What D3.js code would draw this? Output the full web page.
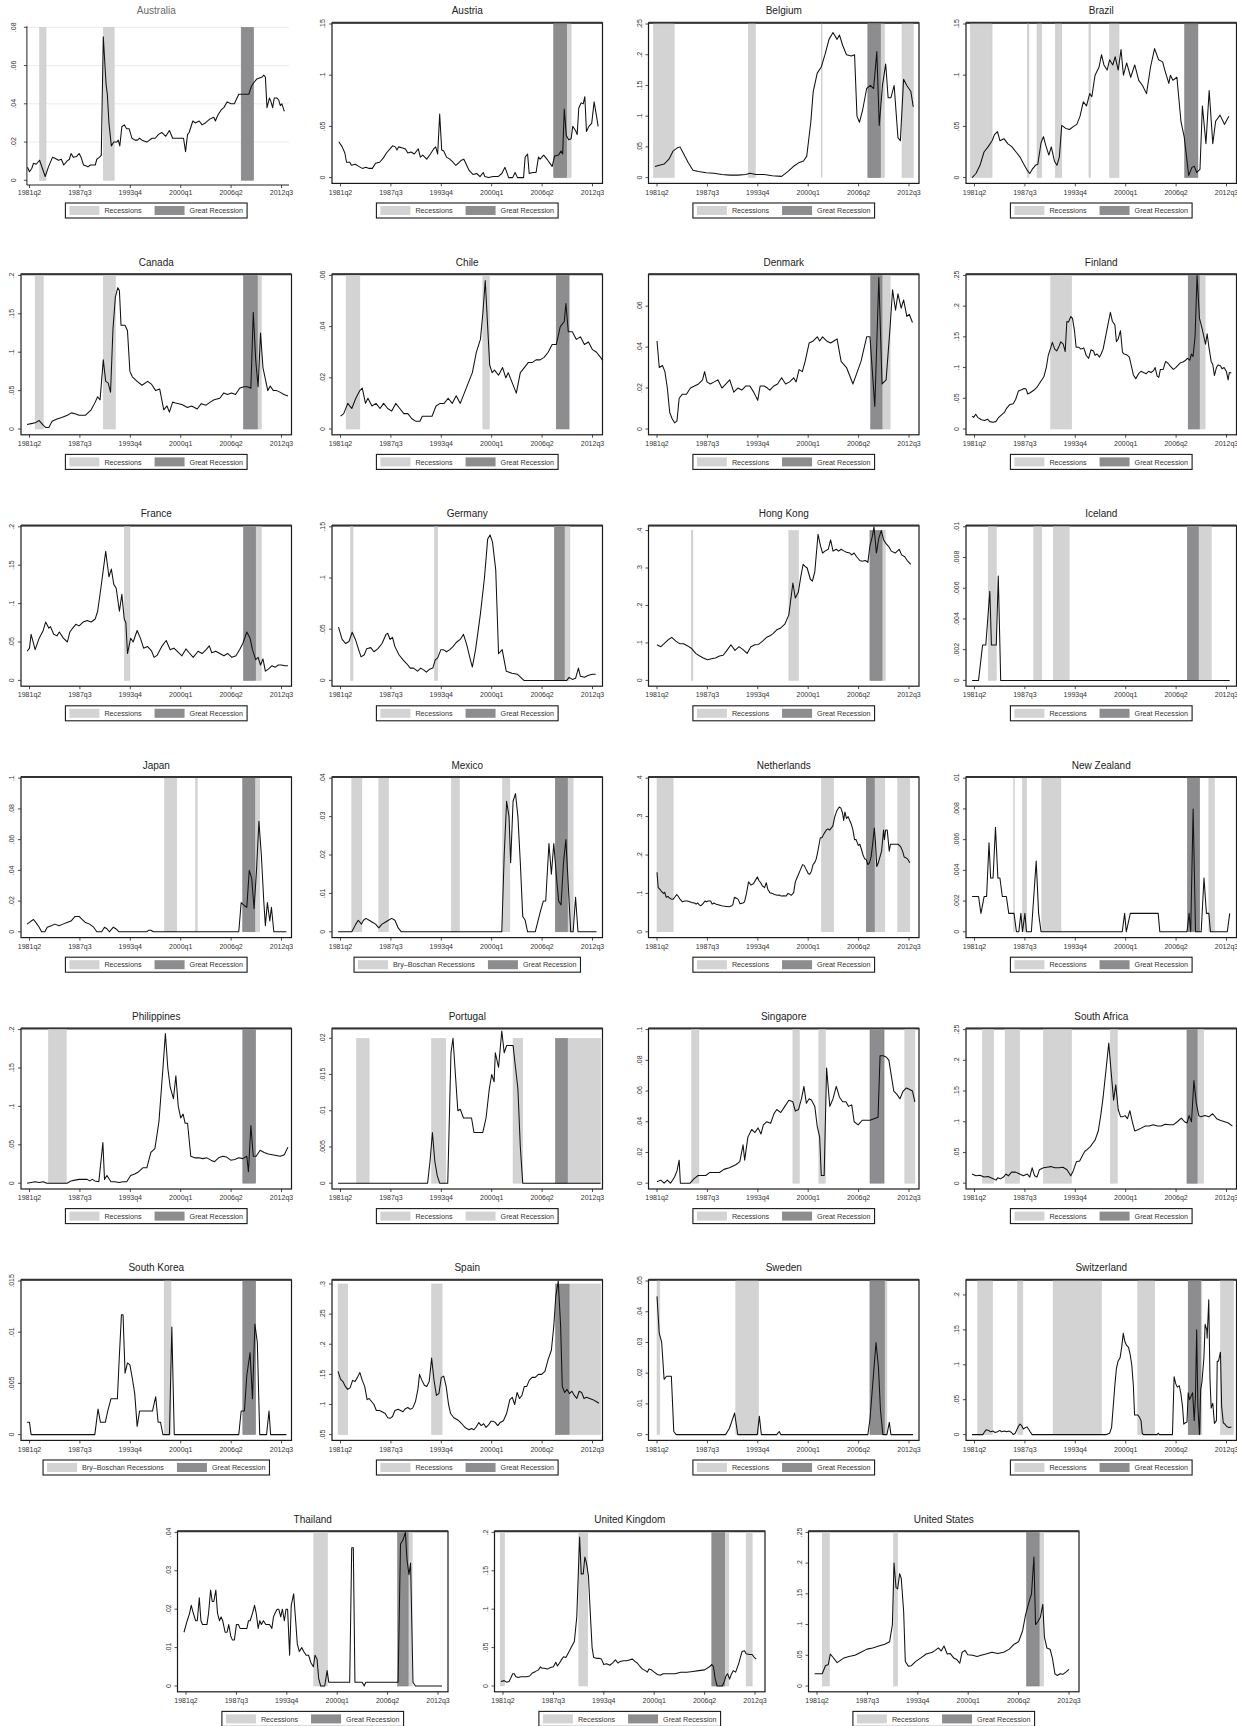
<!DOCTYPE html>
<html><head><meta charset="utf-8">
<script src="https://cdn.jsdelivr.net/npm/d3@7"></script>
<style>
body{margin:0;background:#fff;}
svg text{font-family:"Liberation Sans",Arial,Helvetica,sans-serif;}
</style>
</head><body>
<svg id="c" width="1237" height="1726"></svg>
<script>
// ---------------- DATA ----------------
const tickLabels = ["1981q2","1987q3","1993q4","2000q1","2006q2","2012q3"];
const legendStd = ["Recessions","Great Recession"];
const legendBB = ["Bry\u2013Boschan Recessions","Great Recession"];

// [decimal year, value]
const australia = [[1981.0,.0068],[1981.25,.0045],[1981.54,.0063],[1981.75,.0089],[1982.08,.0084],[1982.5,.0105],[1983.2,.002],[1983.6,.007],[1983.8,.009],[1984.1,.012],[1984.4,.0115],[1984.85,.0105],[1985.2,.011],[1985.5,.008],[1985.9,.01],[1986.2,.011],[1986.4,.014],[1986.7,.012],[1987.1,.0125],[1987.4,.014],[1987.65,.012],[1987.95,.008],[1988.3,.0075],[1988.5,.007],[1988.8,.008],[1989.4,.008],[1989.6,.011],[1989.9,.012],[1990.15,.013],[1990.4,.075],[1990.75,.05],[1990.9,.045],[1991.1,.03],[1991.4,.018],[1991.7,.02],[1992.1,.02],[1992.25,.021],[1992.45,.018],[1992.7,.028],[1993.0,.029],[1993.3,.027],[1993.6,.027],[1993.95,.022],[1994.35,.021],[1994.65,.021],[1994.9,.022],[1995.2,.021],[1995.8,.02],[1996.45,.022],[1996.85,.022],[1997.25,.024],[1997.65,.025],[1998.15,.023],[1998.6,.026],[1999.0,.022],[2000.35,.022],[2000.6,.015],[2000.85,.024],[2001.05,.025],[2001.5,.031],[2001.8,.03],[2002.3,.031],[2002.65,.029],[2003.05,.03],[2003.6,.032],[2004.1,.033],[2004.3,.031],[2004.6,.034],[2005.05,.037],[2005.35,.038],[2005.75,.041],[2006.25,.04],[2006.65,.04],[2007.2,.045],[2007.6,.045],[2008.45,.045],[2008.75,.049],[2009.05,.051],[2009.45,.053],[2010.1,.054],[2010.3,.055],[2010.5,.054],[2010.7,.038],[2011.0,.043],[2011.2,.041],[2011.4,.038],[2011.6,.043],[2011.95,.043],[2012.15,.042],[2012.35,.039],[2012.55,.04],[2012.85,.036]];
const austria = [[1981.04,.035],[1981.46,.030],[1981.79,.024],[1982.0,.015],[1982.4,.015],[1982.6,.012],[1983.1,.013],[1983.5,.011],[1983.95,.009],[1984.4,.010],[1984.8,.009],[1985.2,.009],[1985.6,.014],[1986.1,.015],[1986.55,.019],[1986.95,.024],[1987.5,.029],[1987.7,.031],[1988.05,.030],[1988.25,.027],[1988.45,.030],[1988.95,.029],[1989.3,.028],[1989.6,.024],[1990.0,.025],[1990.4,.023],[1990.9,.028],[1991.15,.020],[1991.45,.022],[1991.95,.018],[1992.4,.023],[1992.8,.028],[1993.05,.030],[1993.3,.023],[1993.55,.062],[1993.8,.027],[1994.05,.026],[1994.4,.020],[1994.8,.018],[1995.2,.015],[1995.55,.012],[1995.85,.014],[1996.25,.017],[1996.55,.018],[1996.9,.012],[1997.2,.007],[1997.7,.003],[1998.15,.004],[1998.55,.001],[1998.95,.005],[1999.15,.001],[1999.6,.000],[2000.2,.001],[2000.8,.001],[2001.25,.004],[2001.65,.010],[2002.1,.000],[2002.6,.000],[2002.9,.005],[2003.2,.000],[2003.95,.000],[2004.15,.020],[2004.45,.023],[2004.65,.004],[2005.1,.005],[2005.5,.005],[2005.8,.020],[2006.0,.018],[2006.45,.022],[2006.95,.017],[2007.5,.011],[2007.8,.021],[2008.3,.022],[2008.6,.026],[2008.8,.023],[2009.0,.067],[2009.25,.041],[2009.55,.037],[2009.85,.038],[2010.05,.050],[2010.4,.046],[2010.6,.042],[2010.8,.068],[2011.1,.073],[2011.35,.072],[2011.55,.079],[2011.75,.045],[2012.05,.050],[2012.4,.053],[2012.7,.074],[2013.0,.060],[2013.2,.050]];
const belgium = [[1981.0,.018],[1981.53,.020],[1982.13,.022],[1982.73,.030],[1983.23,.043],[1983.73,.048],[1984.1,.050],[1984.5,.040],[1985.1,.025],[1985.7,.012],[1986.4,.010],[1987.35,.008],[1988.3,.007],[1989.3,.005],[1990.27,.004],[1991.27,.004],[1992.27,.005],[1992.77,.007],[1993.54,.005],[1994.54,.005],[1995.54,.003],[1996.7,.002],[1997.5,.010],[1998.15,.018],[1998.82,.024],[1999.42,.027],[1999.82,.035],[2000.32,.090],[2000.62,.140],[2001.12,.170],[2001.62,.180],[2002.08,.200],[2002.58,.225],[2003.08,.236],[2003.58,.225],[2003.88,.232],[2004.28,.215],[2004.75,.200],[2005.35,.198],[2005.75,.200],[2006.05,.100],[2006.35,.090],[2006.75,.110],[2007.25,.145],[2007.71,.150],[2008.11,.145],[2008.51,.205],[2008.81,.085],[2009.21,.150],[2009.61,.185],[2009.91,.130],[2010.26,.130],[2010.66,.150],[2011.13,.065],[2011.43,.060],[2011.83,.160],[2012.23,.150],[2012.73,.140],[2013.03,.115]];
const brazil = [[1980.95,.000],[1981.43,.004],[1981.93,.012],[1982.43,.025],[1982.93,.030],[1983.43,.036],[1983.73,.042],[1984.1,.045],[1984.4,.036],[1984.9,.038],[1985.4,.033],[1985.9,.030],[1986.4,.025],[1986.9,.020],[1987.3,.014],[1987.8,.007],[1988.1,.004],[1988.4,.008],[1988.8,.012],[1989.1,.013],[1989.5,.034],[1989.8,.040],[1990.07,.032],[1990.47,.022],[1990.77,.030],[1991.17,.016],[1991.47,.012],[1991.77,.020],[1992.07,.051],[1992.57,.048],[1993.04,.047],[1993.54,.050],[1993.94,.052],[1994.34,.060],[1994.74,.074],[1995.14,.070],[1995.54,.082],[1995.8,.079],[1996.2,.100],[1996.7,.108],[1997.0,.120],[1997.3,.110],[1997.7,.105],[1998.0,.115],[1998.4,.110],[1998.7,.118],[1999.07,.105],[1999.42,.125],[1999.72,.100],[2000.12,.112],[2000.62,.098],[2001.12,.110],[2001.62,.095],[2002.08,.090],[2002.58,.082],[2003.08,.108],[2003.58,.126],[2004.08,.115],[2004.58,.113],[2004.85,.105],[2005.35,.092],[2005.55,.100],[2005.85,.095],[2006.35,.098],[2006.85,.055],[2007.25,.040],[2007.55,.020],[2007.81,.002],[2008.21,.010],[2008.51,.011],[2008.81,.005],[2009.21,.008],[2009.51,.070],[2009.95,.033],[2010.35,.085],[2010.8,.033],[2011.15,.055],[2011.7,.061],[2012.25,.052],[2012.8,.060]];
const canada = [[1980.95,.006],[1981.45,.007],[1981.95,.008],[1982.45,.011],[1982.95,.005],[1983.25,.002],[1983.65,.002],[1984.05,.010],[1984.65,.013],[1985.25,.015],[1985.95,.018],[1986.45,.021],[1986.9,.020],[1987.4,.018],[1988.2,.018],[1988.9,.025],[1989.4,.035],[1989.7,.042],[1990.0,.038],[1990.4,.090],[1990.7,.062],[1991.0,.060],[1991.3,.048],[1991.6,.130],[1991.9,.172],[1992.2,.184],[1992.4,.180],[1992.6,.135],[1993.1,.135],[1993.4,.128],[1993.7,.075],[1994.0,.068],[1994.6,.062],[1995.2,.057],[1995.9,.062],[1996.4,.058],[1996.9,.050],[1997.4,.052],[1997.9,.025],[1998.3,.030],[1998.6,.022],[1999.0,.035],[1999.35,.034],[2000.15,.032],[2000.85,.028],[2001.35,.030],[2002.05,.026],[2002.55,.033],[2003.15,.031],[2003.65,.035],[2004.15,.038],[2004.85,.040],[2005.35,.047],[2005.8,.045],[2006.3,.047],[2006.8,.045],[2007.3,.053],[2007.8,.055],[2008.3,.055],[2008.7,.053],[2009.0,.152],[2009.3,.090],[2009.6,.055],[2009.9,.125],[2010.2,.080],[2010.5,.065],[2010.8,.050],[2011.1,.056],[2011.5,.050],[2011.9,.050],[2012.3,.048],[2012.8,.045],[2013.3,.043]];
const chile = [[1981.25,.005],[1981.65,.006],[1982.15,.010],[1982.65,.008],[1983.15,.012],[1983.65,.015],[1983.95,.016],[1984.35,.010],[1984.65,.012],[1985.15,.009],[1985.65,.010],[1986.15,.008],[1986.6,.010],[1987.1,.008],[1987.6,.007],[1988.1,.010],[1988.6,.008],[1989.1,.006],[1989.6,.006],[1990.1,.004],[1990.6,.003],[1991.1,.003],[1991.4,.005],[1992.1,.005],[1992.6,.005],[1993.1,.009],[1993.6,.010],[1994.1,.010],[1994.6,.012],[1995.1,.010],[1995.6,.013],[1996.1,.010],[1996.6,.014],[1997.1,.018],[1997.6,.022],[1998.1,.030],[1998.6,.035],[1998.9,.045],[1999.2,.058],[1999.5,.040],[1999.75,.025],[2000.05,.022],[2000.35,.023],[2000.85,.021],[2001.35,.024],[2001.75,.020],[2002.05,.022],[2002.55,.018],[2003.05,.014],[2003.55,.022],[2004.05,.024],[2004.55,.026],[2005.05,.026],[2005.5,.027],[2006.0,.027],[2006.5,.028],[2007.0,.030],[2007.5,.033],[2008.0,.033],[2008.5,.040],[2009.0,.042],[2009.2,.049],[2009.5,.038],[2010.0,.038],[2010.5,.035],[2011.0,.036],[2011.5,.033],[2012.0,.034],[2012.5,.031],[2013.0,.030],[2013.5,.028],[2013.7,.027]];
const denmark = [[1981.25,.043],[1981.53,.030],[1981.93,.031],[1982.23,.028],[1982.53,.020],[1982.83,.008],[1983.13,.005],[1983.43,.003],[1983.73,.004],[1984.0,.015],[1984.4,.017],[1984.9,.017],[1985.4,.020],[1985.9,.021],[1986.4,.022],[1986.9,.024],[1987.15,.028],[1987.45,.023],[1987.85,.022],[1988.35,.023],[1988.8,.024],[1989.3,.020],[1989.8,.022],[1990.27,.024],[1990.77,.018],[1991.27,.020],[1991.77,.019],[1992.27,.021],[1992.77,.021],[1993.24,.018],[1993.74,.014],[1994.04,.021],[1994.54,.021],[1994.94,.020],[1995.24,.019],[1995.74,.021],[1996.2,.022],[1996.7,.025],[1997.2,.022],[1997.7,.023],[1998.2,.025],[1998.5,.023],[1998.87,.029],[1999.27,.028],[1999.62,.033],[2000.12,.042],[2000.62,.043],[2001.12,.045],[2001.42,.043],[2001.78,.045],[2002.28,.043],[2002.78,.042],[2003.18,.043],[2003.58,.044],[2004.08,.033],[2004.75,.030],[2005.55,.022],[2006.55,.033],[2007.25,.045],[2007.66,.045],[2008.26,.011],[2008.76,.074],[2009.16,.022],[2009.66,.024],[2010.16,.050],[2010.46,.068],[2010.83,.058],[2011.13,.066],[2011.53,.059],[2011.83,.063],[2012.23,.055],[2012.53,.056],[2012.93,.052]];
const finland = [[1980.95,.021],[1981.15,.019],[1981.4,.024],[1981.65,.019],[1982.1,.015],[1982.5,.014],[1982.85,.016],[1983.15,.012],[1983.55,.011],[1983.9,.012],[1984.2,.018],[1984.6,.023],[1984.95,.027],[1985.25,.034],[1985.65,.040],[1986.05,.041],[1986.35,.048],[1986.7,.062],[1987.1,.064],[1987.4,.066],[1987.65,.065],[1987.85,.057],[1988.15,.059],[1988.6,.063],[1989.0,.068],[1989.4,.076],[1989.85,.085],[1990.15,.100],[1990.4,.120],[1990.7,.132],[1990.9,.141],[1991.2,.130],[1991.45,.127],[1991.75,.135],[1991.95,.142],[1992.25,.138],[1992.5,.126],[1992.7,.175],[1992.9,.174],[1993.2,.183],[1993.4,.180],[1993.65,.160],[1993.85,.133],[1994.2,.133],[1994.45,.130],[1994.8,.132],[1995.1,.120],[1995.4,.115],[1995.7,.129],[1996.0,.127],[1996.2,.120],[1996.45,.122],[1996.75,.117],[1996.95,.122],[1997.2,.130],[1997.5,.150],[1997.8,.170],[1998.1,.190],[1998.35,.175],[1998.65,.170],[1998.85,.142],[1999.05,.146],[1999.35,.160],[1999.6,.125],[1999.8,.122],[2000.1,.121],[2000.45,.117],[2000.75,.100],[2000.95,.088],[2001.25,.082],[2001.6,.090],[2001.9,.094],[2002.2,.092],[2002.55,.090],[2002.85,.094],[2003.15,.092],[2003.45,.095],[2003.65,.100],[2003.9,.086],[2004.1,.084],[2004.3,.097],[2004.65,.097],[2004.95,.110],[2005.25,.107],[2005.55,.102],[2005.9,.097],[2006.2,.100],[2006.5,.104],[2006.8,.108],[2007.1,.109],[2007.35,.111],[2007.65,.115],[2007.95,.112],[2008.15,.122],[2008.35,.118],[2008.6,.150],[2008.85,.250],[2009.15,.180],[2009.45,.165],[2009.7,.150],[2009.9,.138],[2010.1,.155],[2010.3,.135],[2010.6,.110],[2010.8,.105],[2011.0,.087],[2011.25,.100],[2011.45,.104],[2011.75,.103],[2011.95,.098],[2012.2,.100],[2012.5,.093],[2012.7,.080],[2012.85,.092],[2013.1,.091]];
const france = [[1980.95,.038],[1981.25,.042],[1981.45,.060],[1981.95,.040],[1982.45,.055],[1982.95,.065],[1983.25,.076],[1983.65,.068],[1983.85,.070],[1984.25,.060],[1984.65,.058],[1984.95,.063],[1985.45,.055],[1985.95,.050],[1986.25,.063],[1986.6,.068],[1987.0,.073],[1987.4,.071],[1987.9,.076],[1988.4,.078],[1988.9,.076],[1989.4,.080],[1989.7,.090],[1990.1,.120],[1990.7,.168],[1991.1,.135],[1991.4,.145],[1991.7,.125],[1992.0,.120],[1992.4,.090],[1992.7,.112],[1993.0,.080],[1993.2,.075],[1993.4,.035],[1993.8,.055],[1994.1,.050],[1994.6,.065],[1995.0,.055],[1995.4,.042],[1995.9,.044],[1996.4,.038],[1996.7,.030],[1997.1,.033],[1997.7,.045],[1998.2,.052],[1998.7,.040],[1999.15,.042],[1999.55,.038],[2000.15,.032],[2000.65,.041],[2001.05,.036],[2001.55,.030],[2002.15,.038],[2002.65,.035],[2003.15,.040],[2003.55,.045],[2003.85,.036],[2004.35,.038],[2004.85,.035],[2005.35,.032],[2005.85,.035],[2006.35,.030],[2006.85,.032],[2007.3,.040],[2007.7,.048],[2008.2,.063],[2008.6,.055],[2008.9,.040],[2009.3,.027],[2009.6,.030],[2009.9,.020],[2010.2,.028],[2010.5,.012],[2010.9,.015],[2011.3,.019],[2011.7,.017],[2012.1,.020],[2012.5,.020],[2012.9,.019],[2013.3,.019]];
const germany = [[1981.0,.052],[1981.45,.040],[1981.9,.036],[1982.3,.038],[1982.7,.047],[1983.1,.040],[1983.5,.030],[1983.8,.023],[1984.2,.025],[1984.5,.031],[1985.0,.032],[1985.4,.028],[1985.9,.031],[1986.4,.036],[1986.9,.045],[1987.1,.046],[1987.4,.040],[1987.7,.042],[1988.0,.033],[1988.5,.025],[1989.0,.020],[1989.5,.016],[1989.9,.012],[1990.3,.012],[1990.8,.009],[1991.2,.012],[1991.6,.010],[1991.9,.008],[1992.3,.011],[1992.7,.012],[1993.0,.020],[1993.3,.022],[1993.7,.030],[1994.0,.030],[1994.4,.028],[1994.8,.030],[1995.2,.033],[1995.6,.037],[1996.1,.040],[1996.5,.045],[1996.9,.035],[1997.3,.022],[1997.6,.013],[1998.0,.030],[1998.6,.065],[1999.1,.100],[1999.5,.138],[1999.8,.142],[2000.1,.135],[2000.5,.108],[2000.85,.026],[2001.3,.030],[2001.8,.009],[2002.5,.007],[2003.2,.006],[2004.0,.000],[2009.3,.000],[2009.6,.003],[2010.0,.001],[2010.4,.002],[2010.75,.012],[2011.0,.004],[2011.5,.003],[2012.0,.005],[2012.5,.006],[2012.9,.006]];
const hongKong = [[1981.25,.095],[1981.73,.090],[1982.23,.100],[1982.73,.110],[1983.08,.115],[1983.58,.105],[1984.05,.098],[1984.55,.098],[1985.05,.092],[1985.55,.085],[1986.05,.072],[1986.55,.065],[1987.0,.060],[1987.5,.055],[1988.0,.058],[1988.5,.060],[1989.0,.065],[1989.45,.067],[1989.92,.080],[1990.42,.095],[1990.92,.080],[1991.42,.090],[1991.92,.082],[1992.42,.072],[1992.89,.090],[1993.39,.095],[1993.84,.096],[1994.34,.105],[1994.84,.115],[1995.34,.120],[1995.64,.125],[1996.1,.135],[1996.6,.140],[1997.1,.150],[1997.6,.175],[1998.1,.260],[1998.4,.220],[1998.77,.235],[1999.07,.275],[1999.37,.310],[1999.57,.305],[1999.87,.300],[2000.27,.270],[2000.52,.265],[2000.82,.290],[2001.22,.390],[2001.52,.360],[2001.78,.340],[2002.08,.345],[2002.48,.350],[2002.78,.375],[2003.08,.345],[2003.48,.350],[2003.78,.345],[2004.08,.350],[2004.48,.345],[2004.75,.342],[2005.15,.340],[2005.4,.335],[2005.7,.340],[2006.0,.330],[2006.4,.320],[2006.7,.318],[2007.1,.320],[2007.4,.315],[2007.66,.360],[2007.96,.385],[2008.16,.410],[2008.46,.340],[2008.76,.380],[2009.06,.400],[2009.36,.375],[2009.66,.365],[2010.06,.355],[2010.31,.345],[2010.78,.340],[2011.28,.350],[2011.58,.335],[2011.98,.330],[2012.28,.320],[2012.73,.310]];
const iceland = [[1980.95,0],[1981.75,0],[1982.25,.0023],[1982.65,.0023],[1983.15,.0058],[1983.35,.0023],[1983.95,.0023],[1984.2,.0068],[1984.5,0],[2012.9,0]];
const japan = [[1980.95,.005],[1981.45,.007],[1981.75,.008],[1982.05,.006],[1982.45,.003],[1982.75,0],[1983.15,0],[1983.45,.003],[1983.95,.004],[1984.4,.005],[1984.9,.004],[1985.4,.005],[1985.9,.006],[1986.4,.007],[1986.9,.010],[1987.4,.010],[1987.8,.008],[1988.2,.006],[1988.7,.005],[1989.2,.003],[1989.6,0],[1990.2,0],[1990.55,.003],[1990.85,.002],[1991.15,0],[1991.65,.003],[1991.95,.002],[1992.35,0],[1995.8,0],[1996.0,.001],[1996.3,.001],[1996.6,0],[2007.2,0],[2007.5,.019],[2007.9,.017],[2008.2,.016],[2008.5,.040],[2008.8,.035],[2009.1,.015],[2009.4,.040],[2009.7,.072],[2010.0,.050],[2010.3,.020],[2010.5,.004],[2010.75,.019],[2011.05,.007],[2011.25,.016],[2011.55,0],[2013.1,0]];
const mexico = [[1980.95,0],[1982.65,0],[1983.15,.002],[1983.45,.003],[1983.85,.002],[1984.1,.003],[1984.4,.0035],[1984.8,.003],[1985.2,.0025],[1985.6,.002],[1986.0,.001],[1986.4,.002],[1986.8,.0025],[1987.2,.003],[1987.6,.0035],[1988.0,.003],[1988.4,.001],[1988.8,0],[2001.25,0],[2001.55,.020],[2001.85,.034],[2002.15,.030],[2002.35,.018],[2002.65,.034],[2002.95,.036],[2003.25,.030],[2003.55,.018],[2003.85,.004],[2004.15,.003],[2004.45,0],[2005.4,0],[2006.0,.005],[2006.4,.008],[2006.7,.008],[2007.1,.023],[2007.4,.015],[2007.7,.023],[2008.0,.015],[2008.3,.008],[2008.6,.007],[2008.9,.018],[2009.2,.024],[2009.5,.012],[2009.8,0],[2010.1,0],[2010.4,.009],[2010.7,0],[2013.0,0]];
const netherlands = [[1981.25,.155],[1981.4,.115],[1981.65,.110],[1981.8,.105],[1982.05,.100],[1982.2,.103],[1982.4,.090],[1982.6,.092],[1982.8,.088],[1983.05,.085],[1983.25,.085],[1983.45,.090],[1983.7,.097],[1983.9,.092],[1984.1,.085],[1984.4,.078],[1984.7,.080],[1985.0,.080],[1985.3,.078],[1985.6,.076],[1985.9,.075],[1986.1,.072],[1986.3,.075],[1986.5,.070],[1986.7,.068],[1986.9,.072],[1987.2,.080],[1987.4,.078],[1987.6,.080],[1987.9,.080],[1988.1,.072],[1988.3,.075],[1988.6,.072],[1988.95,.070],[1989.25,.068],[1989.5,.067],[1989.85,.066],[1990.2,.065],[1990.45,.067],[1990.65,.070],[1990.85,.090],[1991.05,.088],[1991.3,.085],[1991.55,.073],[1991.9,.075],[1992.1,.078],[1992.35,.100],[1992.6,.130],[1992.9,.122],[1993.2,.125],[1993.4,.132],[1993.7,.143],[1993.9,.133],[1994.1,.128],[1994.3,.120],[1994.6,.115],[1994.8,.128],[1995.0,.110],[1995.25,.102],[1995.55,.100],[1995.8,.097],[1996.15,.095],[1996.4,.096],[1996.65,.093],[1996.95,.094],[1997.25,.093],[1997.5,.100],[1997.7,.098],[1997.9,.095],[1998.2,.102],[1998.4,.130],[1998.6,.140],[1998.8,.150],[1999.0,.160],[1999.3,.175],[1999.5,.173],[1999.8,.160],[2000.0,.152],[2000.2,.150],[2000.4,.158],[2000.6,.175],[2000.8,.180],[2001.0,.190],[2001.2,.210],[2001.5,.245],[2001.7,.245],[2001.95,.255],[2002.25,.265],[2002.45,.268],[2002.65,.265],[2002.85,.270],[2003.05,.275],[2003.3,.300],[2003.55,.315],[2003.85,.325],[2004.05,.322],[2004.25,.310],[2004.4,.290],[2004.55,.312],[2004.75,.295],[2004.95,.300],[2005.15,.290],[2005.35,.280],[2005.55,.265],[2005.75,.240],[2005.95,.240],[2006.2,.225],[2006.4,.228],[2006.6,.215],[2006.8,.200],[2007.0,.190],[2007.2,.188],[2007.4,.175],[2007.6,.180],[2007.8,.195],[2008.0,.230],[2008.2,.270],[2008.35,.230],[2008.5,.170],[2008.7,.180],[2008.9,.195],[2009.1,.210],[2009.35,.265],[2009.45,.240],[2009.6,.265],[2009.8,.265],[2010.05,.210],[2010.2,.228],[2010.55,.228],[2010.85,.228],[2011.15,.228],[2011.45,.222],[2011.7,.210],[2011.9,.195],[2012.1,.193],[2012.3,.190],[2012.6,.180]];
const newZealand = [[1980.95,.0023],[1981.75,.0023],[1982.05,.0012],[1982.45,.0023],[1982.75,.0023],[1983.05,.0058],[1983.25,.0035],[1983.55,.0035],[1983.85,.0068],[1984.15,.0035],[1984.4,.0035],[1984.7,.0023],[1985.2,.0023],[1985.5,.0012],[1986.15,.0012],[1986.45,0],[1986.75,0],[1987.0,.0012],[1987.2,0],[1987.5,.0012],[1987.7,0],[1988.3,0],[1988.6,.0023],[1988.9,.0046],[1989.2,.0012],[1989.5,0],[1999.57,0],[1999.87,.0012],[2000.07,0],[2000.57,.0012],[2000.97,.0012],[2001.98,.0012],[2003.43,.0012],[2004.03,.0012],[2004.23,0],[2007.6,0],[2007.86,.0012],[2008.06,0],[2008.36,.0080],[2008.66,0],[2009.36,0],[2009.71,.0035],[2010.01,.0012],[2010.31,.0012],[2010.51,0],[2012.6,0],[2012.9,.0012]];
const philippines = [[1980.95,0],[1981.45,.001],[1981.95,.002],[1982.45,.001],[1982.95,.002],[1983.4,0],[1983.9,0],[1984.9,0],[1985.9,0],[1986.4,.003],[1986.9,.004],[1987.4,.005],[1987.9,.005],[1988.4,.005],[1988.7,.003],[1989.05,.005],[1989.35,.003],[1989.85,.002],[1990.35,.053],[1990.55,.005],[1990.85,.010],[1991.35,.002],[1991.85,.002],[1992.35,.001],[1992.85,.002],[1993.3,.002],[1993.8,.010],[1994.3,.012],[1994.8,.015],[1995.3,.020],[1995.8,.020],[1996.3,.040],[1996.8,.045],[1997.3,.080],[1997.8,.150],[1998.1,.195],[1998.4,.150],[1998.7,.125],[1999.1,.110],[1999.4,.140],[1999.7,.100],[2000.0,.085],[2000.3,.090],[2000.55,.078],[2000.85,.078],[2001.25,.035],[2001.75,.033],[2002.25,.033],[2002.75,.032],[2003.25,.033],[2003.75,.030],[2004.2,.028],[2004.7,.033],[2005.2,.035],[2005.7,.034],[2006.2,.030],[2006.7,.031],[2007.2,.033],[2007.7,.032],[2008.2,.035],[2008.4,.015],[2008.7,.075],[2009.0,.035],[2009.35,.035],[2009.85,.043],[2010.35,.040],[2010.85,.038],[2011.35,.037],[2011.85,.036],[2012.35,.035],[2012.85,.037],[2013.3,.047]];
const portugal = [[1980.95,0],[1991.55,0],[1992.05,0],[1992.35,.003],[1992.65,.007],[1992.95,.003],[1993.25,.001],[1993.55,0],[1994.15,0],[1994.55,0],[1994.95,.018],[1995.2,.020],[1995.5,.015],[1995.8,.010],[1996.1,.0102],[1996.5,.009],[1997.1,.009],[1997.5,.009],[1997.8,.007],[1998.1,.007],[1998.5,.007],[1998.9,.007],[1999.3,.009],[1999.7,.013],[2000.0,.015],[2000.3,.014],[2000.45,.018],[2000.85,.016],[2001.25,.021],[2001.55,.018],[2001.85,.019],[2002.25,.019],[2002.65,.019],[2002.95,.016],[2003.25,.013],[2003.55,.005],[2003.85,0],[2013.5,0]];
const singapore = [[1981.25,.001],[1981.73,.002],[1982.13,0],[1982.53,.002],[1982.93,0],[1983.43,.004],[1983.73,.008],[1984.0,.015],[1984.15,0],[1985.35,0],[1985.85,.003],[1986.35,.005],[1987.3,.005],[1987.8,.007],[1989.0,.007],[1989.55,.009],[1990.22,.010],[1991.02,.012],[1991.52,.014],[1991.92,.025],[1992.12,.015],[1992.52,.030],[1992.99,.035],[1993.39,.033],[1993.79,.036],[1994.14,.032],[1994.44,.038],[1994.84,.040],[1995.34,.039],[1995.74,.045],[1996.1,.048],[1996.6,.046],[1997.1,.050],[1997.6,.054],[1998.1,.053],[1998.4,.047],[1998.8,.048],[1999.17,.055],[1999.47,.063],[1999.77,.052],[2000.12,.055],[2000.42,.054],[2000.82,.050],[2001.12,.037],[2001.42,.030],[2001.62,.005],[2001.98,.005],[2002.28,.075],[2002.68,.050],[2003.08,.055],[2003.48,.063],[2003.88,.056],[2004.28,.053],[2004.68,.053],[2005.0,.050],[2005.4,.051],[2005.7,.040],[2006.2,.038],[2006.7,.041],[2007.2,.041],[2007.66,.041],[2008.16,.042],[2008.66,.043],[2008.91,.083],[2009.31,.083],[2009.71,.082],[2010.01,.080],[2010.31,.070],[2010.61,.060],[2010.98,.058],[2011.38,.055],[2011.78,.060],[2012.18,.062],[2012.58,.061],[2012.93,.060],[2013.23,.053]];
const southAfrica = [[1980.95,.015],[1981.43,.012],[1981.93,.013],[1982.43,.010],[1982.93,.011],[1983.43,.008],[1983.93,.005],[1984.15,.009],[1984.45,.007],[1984.85,.010],[1985.15,.015],[1985.45,.012],[1985.85,.018],[1986.35,.018],[1986.85,.015],[1987.3,.012],[1987.8,.015],[1988.1,.010],[1988.4,.025],[1988.7,.012],[1989.0,.010],[1989.3,.022],[1989.8,.025],[1990.22,.026],[1990.72,.027],[1991.22,.025],[1991.72,.025],[1992.22,.026],[1992.72,.022],[1993.19,.012],[1993.49,.020],[1993.89,.035],[1994.29,.036],[1994.64,.045],[1994.94,.052],[1995.24,.055],[1995.64,.060],[1995.9,.065],[1996.2,.070],[1996.6,.085],[1996.9,.110],[1997.2,.140],[1997.6,.190],[1997.9,.228],[1998.2,.180],[1998.5,.135],[1998.77,.160],[1999.07,.120],[1999.37,.108],[1999.62,.108],[1999.92,.110],[2000.22,.105],[2000.52,.118],[2000.82,.100],[2001.12,.085],[2001.52,.087],[2001.98,.090],[2002.43,.093],[2002.93,.093],[2003.43,.095],[2003.93,.093],[2004.43,.093],[2004.9,.096],[2005.4,.095],[2005.9,.095],[2006.4,.100],[2006.9,.106],[2007.3,.100],[2007.6,.098],[2007.86,.110],[2008.16,.100],[2008.46,.167],[2008.76,.130],[2009.06,.110],[2009.31,.108],[2009.81,.110],[2010.31,.108],[2010.78,.113],[2011.28,.105],[2011.78,.102],[2012.28,.100],[2012.73,.098],[2013.23,.093]];
const southKorea = [[1980.95,.0012],[1981.25,.0012],[1981.45,0],[1981.95,0],[1989.35,0],[1989.75,.0025],[1990.05,.0012],[1990.65,.0012],[1990.95,.0023],[1991.35,.0035],[1991.85,.0035],[1992.15,.0035],[1992.35,.007],[1992.65,.0117],[1992.85,.0117],[1993.1,.006],[1993.4,.007],[1993.7,.0068],[1994.0,.0055],[1994.3,.004],[1994.6,.0008],[1994.9,.0023],[1995.3,.0023],[1995.8,.0023],[1996.5,.0023],[1996.9,.0037],[1997.2,.0012],[1997.5,.0012],[1997.8,0],[1998.6,0],[1998.9,.0105],[1999.2,0],[2007.2,0],[2007.5,.0023],[2007.9,.0023],[2008.2,.0058],[2008.6,.008],[2008.9,.0035],[2009.2,.0108],[2009.5,.009],[2009.8,0],[2010.65,0],[2010.95,.0023],[2011.15,0],[2013.1,0]];
const spain = [[1980.95,.155],[1981.25,.142],[1981.55,.138],[1981.85,.130],[1982.15,.125],[1982.45,.128],[1982.75,.140],[1983.05,.138],[1983.35,.145],[1983.65,.153],[1983.95,.140],[1984.25,.130],[1984.55,.108],[1984.8,.110],[1985.1,.105],[1985.4,.100],[1985.7,.090],[1986.1,.090],[1986.4,.088],[1986.8,.085],[1987.1,.078],[1987.4,.077],[1987.7,.080],[1988.0,.090],[1988.4,.092],[1988.7,.090],[1989.0,.088],[1989.3,.093],[1989.6,.095],[1989.9,.092],[1990.2,.094],[1990.55,.105],[1990.85,.125],[1991.05,.150],[1991.35,.140],[1991.65,.132],[1991.95,.130],[1992.25,.138],[1992.55,.177],[1992.85,.140],[1993.15,.115],[1993.45,.118],[1993.75,.145],[1994.05,.147],[1994.35,.130],[1994.65,.100],[1994.9,.085],[1995.3,.078],[1995.7,.075],[1996.0,.072],[1996.3,.068],[1996.6,.063],[1996.9,.060],[1997.2,.058],[1997.5,.060],[1997.8,.058],[1998.1,.063],[1998.4,.070],[1998.7,.065],[1999.0,.068],[1999.3,.062],[1999.6,.066],[1999.9,.072],[2000.2,.072],[2000.45,.070],[2000.75,.065],[2001.05,.070],[2001.45,.073],[2001.85,.085],[2002.25,.108],[2002.55,.112],[2002.85,.100],[2003.15,.120],[2003.45,.110],[2003.75,.115],[2004.05,.130],[2004.35,.130],[2004.65,.140],[2005.0,.145],[2005.4,.145],[2005.8,.150],[2006.2,.150],[2006.6,.155],[2007.0,.175],[2007.4,.190],[2007.7,.230],[2007.95,.280],[2008.25,.305],[2008.55,.230],[2008.75,.130],[2009.05,.120],[2009.35,.125],[2009.65,.118],[2009.95,.122],[2010.25,.115],[2010.55,.110],[2010.85,.122],[2011.15,.120],[2011.45,.110],[2011.75,.112],[2012.15,.110],[2012.55,.108],[2012.95,.105],[2013.3,.102]];
const sweden = [[1981.25,.045],[1981.53,.033],[1981.83,.030],[1982.13,.018],[1982.43,.019],[1982.73,.019],[1983.03,.019],[1983.33,.001],[1983.63,0],[1989.75,0],[1990.22,.002],[1990.87,.007],[1991.27,0],[1993.69,0],[1993.94,.006],[1994.19,0],[1996.1,0],[1996.4,.001],[1996.6,0],[2007.4,0],[2007.66,.005],[2008.11,.020],[2008.41,.030],[2008.71,.022],[2008.96,.008],[2009.26,0],[2009.76,0],[2010.06,.004],[2010.26,0],[2013.0,0]];
const switzerland = [[1980.95,0],[1982.3,0],[1982.5,.004],[1982.7,.007],[1983.0,.006],[1983.25,.004],[1983.55,.005],[1983.8,.003],[1984.1,.004],[1984.4,.006],[1984.6,.004],[1984.95,.005],[1985.25,.004],[1985.55,.005],[1985.85,.003],[1986.05,0],[1986.3,.002],[1986.5,.007],[1986.7,.012],[1986.9,.015],[1987.1,.013],[1987.3,.008],[1987.55,.010],[1987.75,.011],[1987.95,.008],[1988.15,.004],[1988.4,0],[1997.6,0],[1998.0,.002],[1998.25,.010],[1998.45,.040],[1998.65,.070],[1998.85,.095],[1999.05,.105],[1999.3,.110],[1999.5,.125],[1999.7,.145],[1999.9,.133],[2000.1,.128],[2000.35,.125],[2000.55,.115],[2000.75,.100],[2000.95,.070],[2001.1,.028],[2001.3,.028],[2001.5,.028],[2001.7,.025],[2001.9,.020],[2002.05,.002],[2002.2,0],[2003.9,0],[2004.05,.002],[2004.15,0],[2005.8,0],[2006.0,.083],[2006.2,.073],[2006.4,.068],[2006.65,.070],[2006.85,.058],[2007.05,.040],[2007.2,.015],[2007.4,.017],[2007.6,.018],[2007.75,.060],[2007.9,.050],[2008.1,.055],[2008.3,.060],[2008.5,.020],[2008.65,.055],[2008.8,.150],[2008.95,.040],[2009.15,0],[2009.3,.065],[2009.45,.075],[2009.7,.110],[2009.85,.158],[2010.05,.150],[2010.1,.138],[2010.3,.193],[2010.45,.080],[2010.6,.038],[2010.8,.045],[2011.0,.016],[2011.25,.020],[2011.35,.105],[2011.5,.105],[2011.75,.118],[2011.9,.040],[2012.1,.017],[2012.3,.015],[2012.5,.012],[2012.8,.010],[2013.1,.011]];
const thailand = [[1981.0,.014],[1981.4,.017],[1981.7,.019],[1981.9,.021],[1982.15,.019],[1982.45,.017],[1982.65,.017],[1982.9,.023],[1983.1,.017],[1983.3,.016],[1983.6,.016],[1983.85,.016],[1984.05,.019],[1984.3,.025],[1984.5,.022],[1984.7,.022],[1984.95,.025],[1985.15,.019],[1985.4,.017],[1985.6,.018],[1985.8,.017],[1986.1,.014],[1986.35,.014],[1986.55,.016],[1986.8,.013],[1987.0,.012],[1987.25,.012],[1987.5,.016],[1987.75,.016],[1987.95,.015],[1988.25,.015],[1988.5,.015],[1988.8,.015],[1989.0,.017],[1989.2,.017],[1989.5,.019],[1989.75,.021],[1989.95,.019],[1990.2,.015],[1990.4,.017],[1990.6,.016],[1990.85,.017],[1991.15,.016],[1991.35,.016],[1991.6,.016],[1991.9,.015],[1992.1,.018],[1992.3,.019],[1992.55,.020],[1992.75,.020],[1993.0,.018],[1993.2,.020],[1993.45,.017],[1993.65,.020],[1993.85,.020],[1994.1,.008],[1994.3,.021],[1994.6,.024],[1994.85,.017],[1995.05,.011],[1995.3,.009],[1995.6,.010],[1995.85,.009],[1996.15,.008],[1996.45,.008],[1996.75,.006],[1997.05,.005],[1997.25,.008],[1997.5,.007],[1997.7,.002],[1997.95,0],[1998.15,0],[1998.45,0],[1998.75,.004],[1998.95,.001],[1999.35,.001],[2000.45,.001],[2001.55,.001],[2001.8,.036],[2002.0,.036],[2002.2,.001],[2002.65,.001],[2003.1,.001],[2003.35,0],[2003.55,.001],[2004.9,.001],[2006.35,.001],[2007.55,.001],[2007.85,.037],[2008.15,.038],[2008.45,.040],[2008.65,.033],[2008.9,.029],[2009.1,.032],[2009.4,.001],[2009.7,0],[2010.8,0],[2013.0,0]];
const unitedKingdom = [[1981.0,.006],[1981.4,.007],[1981.7,.005],[1982.0,.006],[1982.2,.010],[1982.45,.016],[1982.65,.016],[1982.85,.012],[1983.15,.011],[1983.45,.012],[1983.8,.012],[1984.2,.012],[1984.55,.013],[1984.9,.017],[1985.3,.019],[1985.65,.021],[1985.9,.025],[1986.1,.023],[1986.4,.023],[1986.75,.022],[1987.15,.024],[1987.5,.025],[1987.8,.031],[1988.0,.026],[1988.25,.030],[1988.55,.035],[1988.75,.038],[1989.05,.037],[1989.35,.043],[1989.7,.050],[1990.1,.058],[1990.4,.090],[1990.6,.150],[1990.75,.194],[1990.95,.146],[1991.2,.146],[1991.4,.168],[1991.6,.160],[1991.85,.143],[1992.05,.100],[1992.3,.050],[1992.5,.037],[1992.85,.036],[1993.15,.036],[1993.45,.035],[1993.75,.028],[1994.1,.029],[1994.5,.027],[1994.85,.030],[1995.2,.034],[1995.5,.030],[1995.8,.032],[1996.2,.033],[1996.55,.033],[1996.9,.034],[1997.3,.035],[1997.6,.032],[1997.9,.030],[1998.2,.026],[1998.55,.022],[1998.9,.020],[1999.15,.018],[1999.35,.022],[1999.65,.021],[2000.0,.018],[2000.4,.015],[2000.75,.014],[2001.1,.016],[2001.85,.016],[2002.6,.016],[2003.3,.018],[2004.05,.018],[2004.8,.019],[2005.5,.020],[2006.25,.021],[2006.85,.025],[2007.15,.028],[2007.35,.025],[2007.55,.010],[2007.8,0],[2008.1,0],[2008.45,0],[2008.7,.006],[2008.9,.013],[2009.1,.016],[2009.35,.009],[2009.55,.015],[2009.8,.020],[2010.1,.018],[2010.3,.024],[2010.5,.030],[2010.9,.045],[2011.2,.046],[2011.4,.042],[2011.8,.041],[2012.15,.041],[2012.35,.038],[2012.65,.035]];
const unitedStates = [[1980.95,.020],[1981.9,.020],[1982.3,.033],[1982.65,.035],[1982.9,.052],[1983.15,.048],[1983.75,.038],[1984.5,.045],[1985.2,.048],[1985.95,.050],[1986.7,.055],[1987.45,.060],[1988.15,.062],[1988.9,.065],[1989.65,.068],[1990.25,.072],[1990.6,.100],[1990.8,.200],[1991.05,.160],[1991.25,.158],[1991.5,.183],[1991.7,.175],[1992.0,.120],[1992.2,.040],[1992.6,.032],[1992.95,.033],[1993.5,.040],[1994.05,.045],[1994.8,.052],[1995.55,.055],[1995.9,.058],[1996.3,.062],[1996.65,.057],[1997.0,.065],[1997.4,.052],[1997.75,.053],[1998.25,.045],[1998.6,.043],[1998.95,.037],[1999.25,.055],[1999.6,.058],[1999.95,.051],[2000.55,.050],[2001.1,.048],[2001.6,.050],[2002.2,.052],[2002.95,.055],[2003.65,.053],[2004.4,.055],[2005.1,.060],[2005.7,.068],[2006.25,.072],[2006.75,.090],[2007.1,.115],[2007.5,.135],[2007.85,.150],[2008.15,.210],[2008.35,.100],[2008.65,.105],[2008.95,.112],[2009.25,.133],[2009.45,.080],[2009.75,.062],[2010.15,.060],[2010.45,.045],[2010.75,.020],[2011.05,.017],[2011.4,.020],[2011.75,.019],[2012.15,.023],[2012.5,.027]];

// y-axis ticks per panel
const ticks5 = [0,.05,.1,.15,.2,.25];
const panels = [
 {name:"Australia", data:australia, ticks:[0,.02,.04,.06,.08], top:.08, rec:[[1982.5,1983.3],[1990.4,1991.75]], gr:[[2007.5,2009.05]], plain:true},
 {name:"Austria", data:austria, ticks:[0,.05,.1,.15], top:.15, rec:[[2007.7,2009.85]], gr:[[2007.7,2009.3]]},
 {name:"Belgium", data:belgium, ticks:ticks5, top:.25, rec:[[1980.8,1983.38],[1992.57,1993.45],[2001.62,2001.72],[2007.4,2009.46],[2011.63,2013.03]], gr:[[2007.4,2008.96]]},
 {name:"Brazil", data:brazil, ticks:[0,.05,.1,.15], top:.15, rec:[[1980.75,1983.43],[1987.8,1988.0],[1989.0,1989.6],[1991.27,1992.07],[1995.44,1995.64],[1998.0,1999.17]], gr:[[2007.3,2008.96]]},
 {name:"Canada", data:canada, ticks:[0,.05,.1,.15,.2], top:.2, rec:[[1981.95,1982.95],[1990.4,1991.9],[2007.8,2010.0]], gr:[[2007.8,2009.5]]},
 {name:"Chile", data:chile, ticks:[0,.02,.04,.06], top:.06, rec:[[1981.95,1983.65],[1998.9,1999.7]], gr:[[2008.0,2009.6]]},
 {name:"Denmark", data:denmark, ticks:[0,.02,.04,.06], top:.075, rec:[[2007.76,2010.16]], gr:[[2007.76,2009.16]]},
 {name:"Finland", data:finland, ticks:ticks5, top:.25, rec:[[1990.7,1993.3],[2007.75,2009.85]], gr:[[2007.75,2009.15]]},
 {name:"France", data:france, ticks:[0,.05,.1,.15,.2], top:.2, rec:[[1993.0,1993.7],[2007.8,2010.0]], gr:[[2007.8,2009.3]]},
 {name:"Germany", data:germany, ticks:[0,.05,.1,.15], top:.15, rec:[[1982.5,1982.8],[1992.9,1993.3],[2007.8,2009.7]], gr:[[2007.8,2009.0]]},
 {name:"Hong Kong", data:hongKong, ticks:[0,.1,.2,.3,.4], top:.41, barTop:.4, rec:[[1985.5,1985.7],[1997.6,1998.8],[2007.66,2009.56]], gr:[[2007.66,2009.16]]},
 {name:"Iceland", data:iceland, ticks:[0,.002,.004,.006,.008,.01], top:.01, rec:[[1982.95,1983.95],[1988.6,1989.6],[1991.02,1992.99],[2007.65,2010.61]], gr:[[2007.65,2009.01]]},
 {name:"Japan", data:japan, ticks:[0,.02,.04,.06,.08,.1], top:.1, rec:[[1998.0,1999.5],[2001.85,2002.05],[2007.7,2009.8]], gr:[[2007.7,2009.2]]},
 {name:"Mexico", data:mexico, ticks:[0,.01,.02,.03,.04], top:.04, rec:[[1982.65,1983.9],[1986.0,1987.2],[1995.0,1996.0],[2001.35,2002.25],[2007.9,2010.1]], gr:[[2007.9,2009.4]], legend:legendBB},
 {name:"Netherlands", data:netherlands, ticks:[0,.1,.2,.3,.4], top:.4, rec:[[1981.25,1983.25],[2001.65,2003.15],[2007.2,2009.5],[2011.1,2012.6]], gr:[[2007.2,2008.2]]},
 {name:"New Zealand", data:newZealand, ticks:[0,.002,.004,.006,.008,.01], top:.01, rec:[[1986.1,1986.2],[1987.2,1987.7],[1989.6,1991.97],[2007.66,2009.16],[2010.31,2011.01]], gr:[[2007.66,2009.16]]},
 {name:"Philippines", data:philippines, ticks:[0,.05,.1,.15,.2], top:.2, rec:[[1983.6,1985.8]], gr:[[2007.7,2009.3]]},
 {name:"Portugal", data:portugal, ticks:[0,.005,.01,.015,.02], top:.0212, barTop:.02, rec:[[1983.25,1984.8],[1992.55,1994.3],[2002.65,2003.85],[2009.4,2013.5]], gr:[[2007.9,2009.4]], grLegendLight:true},
 {name:"Singapore", data:singapore, ticks:[0,.02,.04,.06,.08,.1], top:.1, rec:[[1985.55,1986.45],[1998.1,1998.9],[2001.32,2002.12],[2011.98,2013.23]], gr:[[2007.66,2009.41]]},
 {name:"South Africa", data:southAfrica, ticks:ticks5, top:.25, rec:[[1982.23,1983.63],[1985.05,1986.85],[1989.8,1993.29],[1998.1,1998.97],[2007.6,2009.66]], gr:[[2007.6,2008.86]]},
 {name:"South Korea", data:southKorea, ticks:[0,.005,.01,.015], top:.015, rec:[[1997.95,1998.8]], gr:[[2007.7,2009.3]], legend:legendBB},
 {name:"Spain", data:spain, ticks:[.05,.1,.15,.2,.25,.3], ymin:.05, top:.305, barTop:.3, rec:[[1980.95,1982.15],[1992.55,1993.85],[2009.6,2013.5]], gr:[[2007.9,2009.6]]},
 {name:"Sweden", data:sweden, ticks:[0,.01,.02,.03,.04,.05], top:.05, rec:[[1981.25,1981.6],[1991.02,1993.84],[2007.66,2009.76]], gr:[[2007.66,2009.46]]},
 {name:"Switzerland", data:switzerland, ticks:[0,.05,.1,.15,.2], top:.22, rec:[[1981.65,1983.5],[1986.6,1987.25],[1991.0,1997.0],[2001.5,2003.6],[2007.75,2009.45],[2011.75,2013.35]], gr:[[2007.75,2009.3]]},
 {name:"Thailand", data:thailand, ticks:[0,.01,.02,.03,.04], top:.04, rec:[[1997.1,1998.8],[2007.5,2009.3]], gr:[[2007.5,2008.8]]},
 {name:"United Kingdom", data:unitedKingdom, ticks:[0,.05,.1,.15,.2], top:.2, rec:[[1980.9,1981.45],[1990.65,1991.75],[2007.15,2009.25],[2011.4,2012.15]], gr:[[2007.15,2008.75]]},
 {name:"United States", data:unitedStates, ticks:ticks5, top:.25, rec:[[1981.9,1982.8],[1990.75,1991.25],[2007.25,2009.35]], gr:[[2007.25,2008.8]]}
];

// ---------------- LAYOUT / STYLE ----------------
const LIGHT = "#d3d3d3", DARK = "#8d8d8f";
const ROW_H = 251.4, PLOT_W = 252;
const colX0 = [29.5, 340.5, 657, 974.5];
const lastRowX0 = [186, 503, 817];
const Y_ZERO = 177.6, Y_TOP = 24, FR_TOP = 22.8, FR_BOT = 183.4;
const parseQ = s => +s.slice(0,4) + (+s.slice(5) - 1) / 4;
const tickT = tickLabels.map(parseQ);
const fmt = v => v === 0 ? "0" : String(+v.toFixed(4)).replace(/^0\./, ".");

const svg = d3.select("#c");
const defs = svg.append("defs");

panels.forEach((p, i) => {
  const r = Math.floor(i / 4), c = i % 4;
  const x0 = r < 6 ? colX0[c] : lastRowX0[c];
  const oy = r * ROW_H;
  const g = svg.append("g").attr("transform", `translate(0,${oy.toFixed(2)})`);
  const x = d3.scaleLinear().domain([tickT[0], tickT[tickT.length - 1]]).range([x0, x0 + PLOT_W]);
  const ymin = p.ymin || 0;
  const yz = p.plain ? 180.3 : Y_ZERO, yt = p.plain ? 27.3 : Y_TOP;
  const y = d3.scaleLinear().domain([ymin, p.top]).range([yz, yt]);
  const fl = p.plain ? x0 - 2.6 : x0 - 8.5;
  const fr = p.plain ? x0 + PLOT_W + 7.5 : x0 + PLOT_W + 10;
  const fb = p.plain ? 185 : FR_BOT, ft = p.plain ? 22 : FR_TOP;
  const cx = (p.plain ? (x0 - 8.5 + x0 + PLOT_W + 10) : (fl + fr)) / 2;

  const cid = "clip" + i;
  defs.append("clipPath").attr("id", cid).append("rect")
    .attr("x", fl).attr("y", oy + ft).attr("width", fr - fl).attr("height", fb - ft);

  if (p.plain) {
    g.selectAll(".grid").data(p.ticks.filter(v => v > 0)).join("line")
      .attr("x1", fl).attr("x2", fr).attr("y1", d => y(d)).attr("y2", d => y(d))
      .attr("stroke", "#e9e9e9").attr("stroke-width", 0.9);
  }

  const plot = svg.append("g").attr("clip-path", `url(#${cid})`);
  const inner = plot.append("g").attr("transform", `translate(0,${oy.toFixed(2)})`);
  const bt = p.barTop !== undefined ? p.barTop : p.top;

  inner.selectAll(".rec").data(p.rec).join("rect")
    .attr("x", d => x(d[0])).attr("width", d => Math.max(0.8, x(d[1]) - x(d[0])))
    .attr("y", y(bt)).attr("height", y(ymin) - y(bt))
    .attr("fill", LIGHT).attr("stroke", "#c9c9c9").attr("stroke-width", 0.5);
  inner.selectAll(".gr").data(p.gr).join("rect")
    .attr("x", d => x(d[0])).attr("width", d => x(d[1]) - x(d[0]))
    .attr("y", y(bt)).attr("height", y(ymin) - y(bt))
    .attr("fill", DARK).attr("stroke", "#808082").attr("stroke-width", 0.5);

  const line = d3.line().x(d => x(d[0])).y(d => y(d[1]));
  inner.append("path").datum(p.data).attr("d", line)
    .attr("fill", "none").attr("stroke", "#111").attr("stroke-width", 1.05)
    .attr("stroke-linejoin", "round");

  if (p.plain) {
    g.append("line").attr("x1", fl).attr("x2", fl).attr("y1", y(p.top) - 1).attr("y2", fb)
      .attr("stroke", "#222").attr("stroke-width", 1);
    g.append("line").attr("x1", fl).attr("x2", fr).attr("y1", fb).attr("y2", fb)
      .attr("stroke", "#222").attr("stroke-width", 1);
  } else {
    g.append("rect").attr("x", fl).attr("y", ft).attr("width", fr - fl).attr("height", fb - ft)
      .attr("fill", "none").attr("stroke", "#1a1a1a").attr("stroke-width", 1.2);
    g.append("line").attr("x1", fl).attr("x2", fr).attr("y1", ft).attr("y2", ft)
      .attr("stroke", "#333").attr("stroke-width", 2);
  }

  g.selectAll(".yt").data(p.ticks).join("line")
    .attr("x1", fl - 3).attr("x2", fl).attr("y1", d => y(d)).attr("y2", d => y(d))
    .attr("stroke", "#222").attr("stroke-width", 0.8);
  const ylx = p.plain ? fl - 10.8 : fl - 7;
  g.selectAll(".yl").data(p.ticks).join("text")
    .attr("transform", d => `translate(${ylx},${y(d)}) rotate(-90)`)
    .attr("text-anchor", "middle").attr("font-size", 7).attr("fill", "#333")
    .text(fmt);

  g.selectAll(".xt").data(tickT).join("line")
    .attr("x1", d => x(d)).attr("x2", d => x(d)).attr("y1", fb).attr("y2", fb + 3)
    .attr("stroke", "#222").attr("stroke-width", 0.8);
  g.selectAll(".xl").data(tickLabels).join("text")
    .attr("x", (d, k) => x(tickT[k])).attr("y", 194.5)
    .attr("text-anchor", "middle").attr("font-size", 7).attr("fill", "#333")
    .text(d => d);

  g.append("text").attr("x", cx).attr("y", 14.4).attr("text-anchor", "middle")
    .attr("font-size", 10).attr("fill", p.plain ? "#6a6a6a" : "#222").text(p.name);

  const labels = p.legend || legendStd;
  const lg = g.append("g");
  const box = lg.append("rect").attr("y", 203).attr("height", 15)
    .attr("fill", "#fff").attr("stroke", "#1a1a1a").attr("stroke-width", 1.1);
  const t1 = lg.append("text").attr("y", 213.2).attr("font-size", 7.2).attr("fill", "#333").text(labels[0]);
  const t2 = lg.append("text").attr("y", 213.2).attr("font-size", 7.2).attr("fill", "#333").text(labels[1]);
  const w1 = t1.node().getComputedTextLength(), w2 = t2.node().getComputedTextLength();
  const pad = 4, sw = 30, gap = 5, mid = 13;
  const W = pad + sw + gap + w1 + mid + sw + gap + w2 + pad;
  const bx = cx - W / 2;
  box.attr("x", bx).attr("width", W);
  lg.append("rect").attr("x", bx + pad).attr("y", 206).attr("width", sw).attr("height", 9).attr("fill", LIGHT);
  t1.attr("x", bx + pad + sw + gap);
  const s2 = bx + pad + sw + gap + w1 + mid;
  lg.append("rect").attr("x", s2).attr("y", 206).attr("width", sw).attr("height", 9)
    .attr("fill", p.grLegendLight ? LIGHT : DARK);
  t2.attr("x", s2 + sw + gap);
});
</script>
</body></html>
